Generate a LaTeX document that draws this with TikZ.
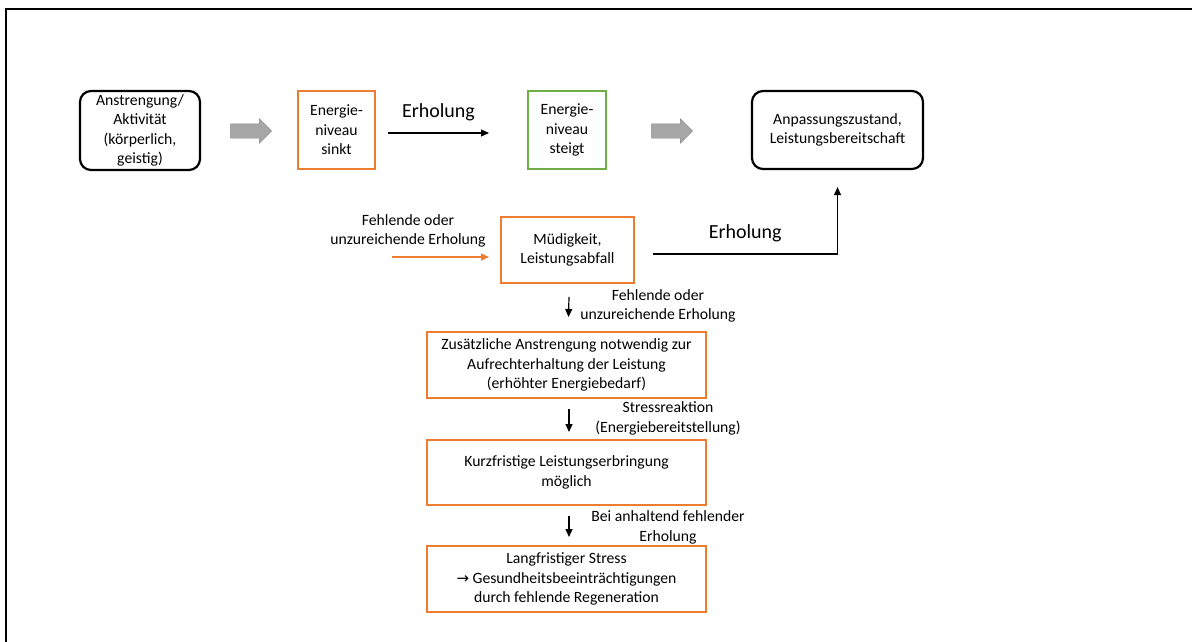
\documentclass[tikz,border=0pt]{standalone}
\usepackage{fontspec}
\setmainfont{Carlito}
\newfontfamily\pfeilfont{DejaVu Sans}
\usetikzlibrary{arrows.meta,shapes.arrows}
\definecolor{orangeline}{RGB}{237,125,49}
\definecolor{greenline}{RGB}{112,173,71}
\definecolor{greyarrow}{RGB}{166,166,166}

\begin{document}
\begin{tikzpicture}[
    x=1pt, y=-1pt,
    every node/.style={font=\fontsize{15.7}{19.5}\selectfont, align=center},
    rbox/.style={draw, line width=2.2pt, rounded corners=11pt, inner sep=1pt},
    obox/.style={draw=orangeline, line width=2pt, inner sep=1pt},
    gbox/.style={draw=greenline, line width=2pt, inner sep=1pt},
    bigtext/.style={font=\fontsize{20}{24}\selectfont},
    blockarrow/.style={single arrow, draw=greyarrow!80!black, fill=greyarrow, minimum height=41pt, minimum width=24pt, single arrow head extend=5pt, inner xsep=0pt, inner ysep=7pt},
    arr/.style={-{Triangle[length=8pt,width=7pt]}, line width=1.2pt}
    ]
	\useasboundingbox (0,0) rectangle (1192,642);
	\draw [line width=1.3pt] (6,642) -- (6,9) -- (1192,9);

	\node [rbox, minimum width=120pt, minimum height=79pt] (anstr) at (140,130.5) {Anstrengung/\\Aktivität\\(körperlich,\\geistig)};
	\node [blockarrow] (pfeil1) at (247.5,131) {};
	\node [obox, minimum width=77pt, minimum height=78pt] (sinkt) at (336.5,130) {Energie-\\niveau\\sinkt};
	\node [gbox, minimum width=78pt, minimum height=78pt] (steigt) at (567,130) {Energie-\\niveau\\steigt};
	\node [blockarrow] (pfeil2) at (668.5,131) {};
	\node [rbox, minimum width=171pt, minimum height=78pt] (anpass) at (837.5,130) {Anpassungszustand,\\Leistungsbereitschaft};

	\draw [arr] ([xshift=12pt,yshift=-3pt]sinkt.east) -- node [bigtext, above=8pt] (erh1) {Erholung} ([xshift=-38pt,yshift=-3pt]steigt.west);

	\node [obox, minimum width=133pt, minimum height=66pt] (muede) at (567.5,250) {Müdigkeit,\\Leistungsabfall};
	\coordinate (fehlstart) at (392,257);
	\node (fehl1) at (408,231) {Fehlende oder\\unzureichende Erholung};
	\draw [arr, draw=orangeline, line width=1.5pt, -{Triangle[length=8pt,width=7pt,fill=orangeline]}] (fehlstart) -- ([xshift=-11pt,yshift=-7pt]muede.west);

	\draw [arr] ([xshift=18pt,yshift=-4pt]muede.east) -| node [bigtext, pos=0.25, above=8pt] (erh2) {Erholung} ([yshift=-17pt]anpass.south);

	\node [obox, minimum width=279pt, minimum height=66pt] (zusatz) at (566.5,365) {Zusätzliche Anstrengung notwendig zur\\Aufrechterhaltung der Leistung\\(erhöhter Energiebedarf)};
	\draw [arr] ([xshift=1.5pt,yshift=-13pt]muede.south) -- ([xshift=2pt,yshift=14pt]zusatz.north);
	\node (fehl2) at (658,306) {Fehlende oder\\unzureichende Erholung};

	\node [obox, minimum width=279pt, minimum height=65pt] (kurz) at (566.5,472.5) {Kurzfristige Leistungserbringung\\möglich};
	\draw [arr] ([xshift=2.5pt,yshift=-10pt]zusatz.south) -- ([xshift=2.5pt,yshift=7pt]kurz.north);
	\node (stress) at (668,418.5) {Stressreaktion\\(Energiebereitstellung)};

	\node [obox, minimum width=279pt, minimum height=66pt] (lang) at (566.5,579) {Langfristiger Stress\\{\pfeilfont\fontsize{15}{19.5}\selectfont →} Gesundheitsbeeinträchtigungen\\durch fehlende Regeneration};
	\draw [arr] ([xshift=2.5pt,yshift=-10pt]kurz.south) -- ([xshift=2.5pt,yshift=8pt]lang.north);
	\node (anhalt) at (668,527.5) {Bei anhaltend fehlender\\Erholung};
\end{tikzpicture}
\end{document}
